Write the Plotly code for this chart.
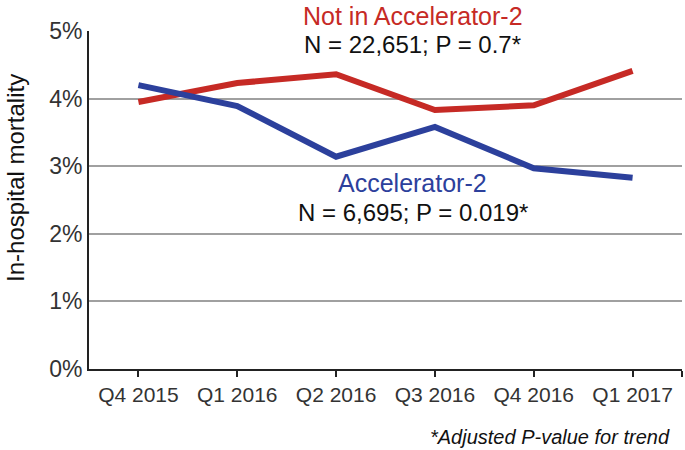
import plotly.graph_objects as go

quarters = ["Q4 2015", "Q1 2016", "Q2 2016", "Q3 2016", "Q4 2016", "Q1 2017"]
not_in_acc2 = [3.95, 4.23, 4.36, 3.83, 3.90, 4.41]
acc2 = [4.20, 3.89, 3.14, 3.58, 2.97, 2.83]
y_ticks = [0, 1, 2, 3, 4, 5]
y_tick_labels = ["0%", "1%", "2%", "3%", "4%", "5%"]

RED = "#c62a25"
BLUE = "#2c409c"
FONT = "Liberation Sans, Arial, Helvetica, sans-serif"

xi = list(range(len(quarters)))

fig = go.Figure()
fig.add_trace(go.Scatter(x=xi, y=not_in_acc2, mode="lines",
                         line=dict(color=RED, width=6), showlegend=False))
fig.add_trace(go.Scatter(x=xi, y=acc2, mode="lines",
                         line=dict(color=BLUE, width=6), showlegend=False))

fig.update_layout(
    width=685, height=450,
    margin=dict(l=89, r=3, t=31, b=81),
    paper_bgcolor="white", plot_bgcolor="white",
    font=dict(family=FONT, color="#222222"),
)
fig.update_xaxes(
    range=[-0.5, len(quarters) - 0.5],
    tickvals=xi + [len(quarters) - 0.5],
    ticktext=quarters + [""],
    ticks="outside", ticklen=6, tickwidth=1.5, tickcolor="#222",
    showline=True, linecolor="#222", linewidth=2,
    showgrid=False, zeroline=False,
    tickfont=dict(size=21, family=FONT, color="#333"),
)
fig.update_yaxes(
    range=[0, 5], tickvals=y_ticks, ticktext=y_tick_labels,
    showline=True, linecolor="#222", linewidth=2,
    showgrid=True, gridcolor="#a0a0a0", gridwidth=1.5,
    zeroline=False, ticks="",
    tickfont=dict(size=23, family=FONT, color="#333"),
)

ann = [
    dict(text="Not in Accelerator-2", x=0.546, y=1.044, color=RED, size=25, xanchor="center"),
    dict(text="N = 22,651; P = 0.7*", x=0.546, y=0.959, color="#111", size=24, xanchor="center"),
    dict(text="Accelerator-2", x=0.546, y=0.55, color=BLUE, size=25, xanchor="center"),
    dict(text="N = 6,695; P = 0.019*", x=0.546, y=0.462, color="#111", size=24, xanchor="center"),
    dict(text="<i>*Adjusted P-value for trend</i>", x=0.983, y=-0.201, color="#111", size=20, xanchor="right"),
]
for a in ann:
    fig.add_annotation(text=a["text"], xref="paper", yref="paper", x=a["x"], y=a["y"],
                       xanchor=a["xanchor"], yanchor="middle", showarrow=False,
                       font=dict(size=a["size"], color=a["color"], family=FONT))

fig.add_annotation(text="In-hospital mortality", xref="paper", yref="paper",
                   x=-0.125, y=0.565, textangle=-90, xanchor="center", yanchor="middle",
                   showarrow=False, font=dict(size=24, color="#111", family=FONT))

fig.write_html("out.html", config={"displayModeBar": False},
               post_script="document.body.style.margin='0px';document.body.style.padding='0px';")
